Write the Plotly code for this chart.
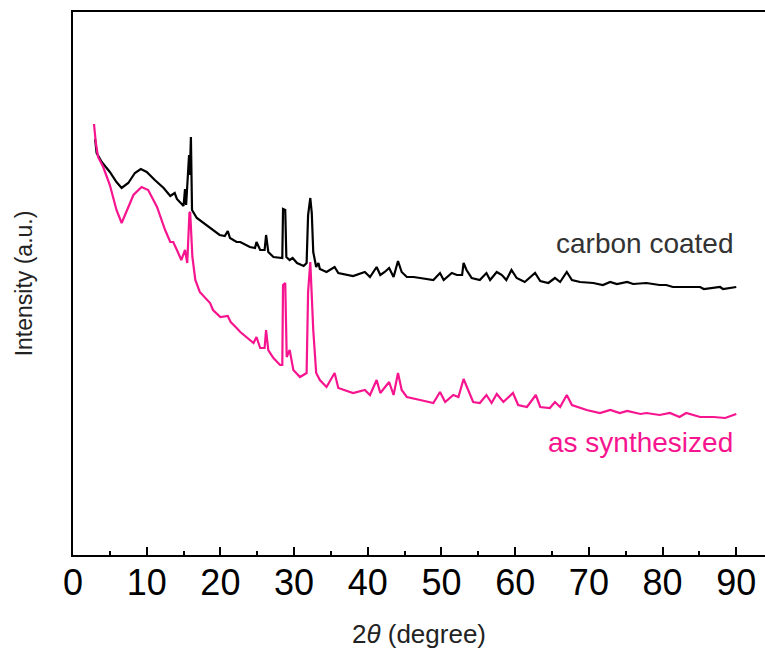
import plotly.graph_objects as go

# 2-theta (degree) and intensity (arbitrary units)
coated_2theta = [3.0, 3.2, 3.9, 5.0, 5.9, 6.6, 7.5, 8.4, 9.2, 10.0, 11.1, 12.3, 13.2, 13.8, 14.1,
                 15.0, 15.2, 15.35, 15.75, 15.85, 16.0, 16.15, 16.8, 18.6, 19.9, 20.6, 21.0, 21.3,
                 22.2, 22.7, 24.0, 24.7, 24.9, 25.4, 26.0, 26.2, 26.5, 27.2, 28.1, 28.4, 28.5,
                 28.8, 28.95, 29.4, 29.8, 30.4, 31.3, 31.7, 31.9, 32.2, 32.4, 32.6, 33.0, 33.3,
                 33.5, 34.4, 35.5, 36.0, 38.0, 39.6, 40.3, 41.2, 41.7, 42.3, 42.9, 43.5, 44.1,
                 44.6, 45.3, 46.2, 47.1, 48.9, 49.8, 50.3, 51.4, 52.1, 52.8, 53.0, 53.4, 54.1,
                 55.2, 56.1, 56.6, 57.5, 58.2, 58.8, 59.5, 60.2, 61.3, 62.7, 63.4, 64.5, 65.4,
                 66.1, 67.0, 67.7, 68.8, 70.6, 71.9, 72.9, 73.8, 75.2, 76.0, 77.8, 79.6, 80.5,
                 81.4, 85.1, 85.6, 87.8, 88.2, 90.0]
coated_intensity = [416, 402, 393, 383, 373, 367, 372, 382, 386, 383, 375, 367, 359, 362, 356,
                    349, 366, 350, 400, 380, 418, 345, 337, 327, 320, 319, 324, 317,
                    313, 313, 308, 307, 313, 305, 305, 320, 303, 298, 297, 297, 346,
                    345, 298, 295, 297, 292, 289, 292, 340, 357, 342, 303, 288, 292,
                    286, 283, 288, 282, 279, 283, 278, 288, 280, 283, 287, 278, 294,
                    283, 278, 278, 277, 275, 282, 275, 282, 280, 280, 292, 285, 277,
                    275, 282, 275, 283, 280, 275, 285, 277, 273, 282, 274, 272, 277,
                    273, 283, 275, 273, 272, 270, 273, 271, 273, 271, 272, 270, 270,
                    268, 268, 266, 268, 266, 268]

synth_2theta = [2.85, 3.1, 3.4, 4.1, 5.0, 5.9, 6.6, 7.3, 8.2, 9.3, 10.2, 11.4, 12.5, 13.2, 13.6,
                14.1, 14.7, 15.2, 15.5, 15.8, 15.9, 16.2, 16.6, 17.2, 18.6, 19.0, 20.0, 21.0,
                21.4, 22.2, 22.7, 24.5, 24.9, 25.4, 26.0, 26.2, 26.5, 27.2, 28.1, 28.4, 28.5,
                28.8, 29.0, 29.4, 29.9, 30.8, 31.7, 31.9, 32.2, 32.6, 33.0, 33.5, 34.4, 35.5,
                36.0, 38.0, 39.6, 40.3, 41.2, 41.7, 42.3, 42.9, 43.5, 44.1, 44.6, 45.3, 47.1,
                48.9, 49.8, 50.5, 51.6, 52.3, 53.0, 53.7, 54.3, 55.2, 56.1, 56.8, 57.5, 58.4,
                59.7, 60.4, 61.6, 62.8, 63.4, 64.7, 65.4, 66.1, 67.0, 67.7, 69.7, 71.5, 72.9,
                74.2, 75.2, 77.0, 77.8, 79.6, 81.0, 82.3, 83.2, 85.1, 86.9, 88.5, 90.0]
synth_intensity = [431, 412, 398, 388, 370, 345, 332, 345, 360, 368, 365, 348, 325, 313, 313,
                   305, 295, 305, 292, 342, 343, 298, 275, 263, 252, 245, 238, 239,
                   233, 227, 223, 212, 218, 207, 207, 225, 205, 197, 190, 190, 270,
                   272, 198, 205, 185, 178, 182, 263, 293, 225, 182, 175, 168, 182,
                   167, 162, 165, 160, 175, 162, 167, 173, 160, 182, 165, 158, 155,
                   152, 163, 153, 160, 158, 176, 163, 153, 152, 160, 152, 161, 153,
                   162, 150, 148, 160, 148, 147, 153, 148, 160, 150, 145, 142, 145,
                   142, 144, 141, 142, 140, 142, 138, 142, 138, 138, 137, 141]

x_ticks = [0, 10, 20, 30, 40, 50, 60, 70, 80, 90]
labels = ["carbon coated", "as synthesized"]
label_y = [312, 113]

BLACK = "#000000"
PINK = "#f7148f"
FONT = "Liberation Sans, Arial, sans-serif"

fig = go.Figure()
fig.add_trace(go.Scatter(x=coated_2theta, y=coated_intensity, mode="lines",
                         line=dict(color=BLACK, width=2.2), name=labels[0]))
fig.add_trace(go.Scatter(x=synth_2theta, y=synth_intensity, mode="lines",
                         line=dict(color=PINK, width=2.2), name=labels[1]))

fig.add_annotation(x=89.8, y=label_y[0], text=labels[0], showarrow=False, xanchor="right",
                   yanchor="middle", font=dict(family=FONT, size=28, color="#333333"))
fig.add_annotation(x=89.8, y=label_y[1], text=labels[1], showarrow=False, xanchor="right",
                   yanchor="middle", font=dict(family=FONT, size=28, color=PINK))

fig.update_layout(
    width=765, height=656,
    margin=dict(l=73, r=0, t=12, b=101),
    paper_bgcolor="white", plot_bgcolor="white",
    showlegend=False,
    font=dict(family=FONT, color="#000000"),
    xaxis=dict(range=[0, 93.9], tickvals=x_ticks, ticks="inside", ticklen=8, tickwidth=1.5,
               tickcolor="#000", showline=True, linecolor="#000", linewidth=2, mirror=True,
               showgrid=False, zeroline=False, automargin=False, ticklabelstandoff=-5,
               tickfont=dict(family=FONT, size=36, color="#000"),
               minor=dict(dtick=5, ticks="inside", ticklen=4, tickwidth=1.5, tickcolor="#000"),
               title=dict(text="2<i>θ</i> (degree)", font=dict(family=FONT, size=26, color="#222"),
                          standoff=23)),
    yaxis=dict(range=[0, 543], showticklabels=False, ticks="", showline=True, linecolor="#000",
               linewidth=2, showgrid=False, zeroline=False, automargin=False,
               title=dict(text="Intensity (a.u.)", font=dict(family=FONT, size=23, color="#222"),
                          standoff=32)),
)

fig.write_html("out.html", config={"displayModeBar": False},
               post_script="document.body.style.margin='0';document.body.style.overflow='hidden';")
